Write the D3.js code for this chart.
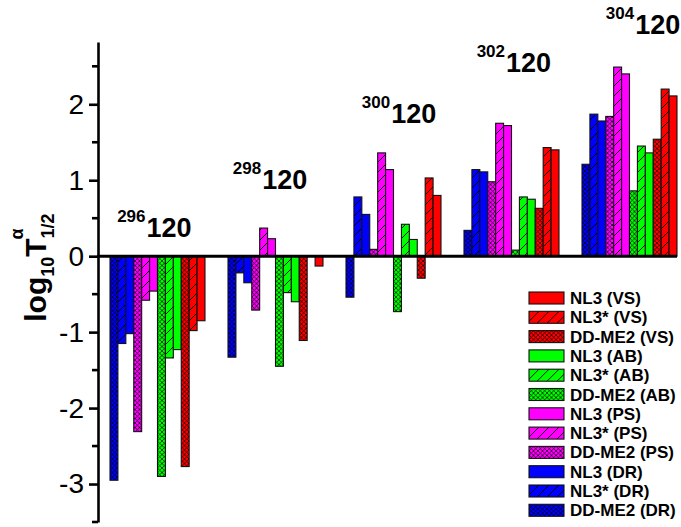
<!DOCTYPE html>
<html>
<head>
<meta charset="utf-8">
<script src="https://cdn.jsdelivr.net/npm/d3@7/dist/d3.min.js"></script>
<style>
  html, body { margin: 0; padding: 0; background: #fff; }
  svg { display: block; font-family: "Liberation Sans", Arial, sans-serif; }
</style>
</head>
<body>
<svg id="chart" width="681" height="527"></svg>
<script>
// Isotopes of element 120 (mass numbers), one bar cluster each
const isotopes = ["296", "298", "300", "302", "304"];

// Series in drawing order inside each cluster
const seriesNames = [
  "DD-ME2 (DR)", "NL3* (DR)", "NL3 (DR)",
  "DD-ME2 (PS)", "NL3* (PS)", "NL3 (PS)",
  "DD-ME2 (AB)", "NL3* (AB)", "NL3 (AB)",
  "DD-ME2 (VS)", "NL3* (VS)", "NL3 (VS)"
];

// log10 T1/2 (alpha) for each series, per isotope (null = not computed)
const ddme2DR = [-2.95, -1.33, -0.54, 0.34, 1.21];
const nl3sDR  = [-1.15, -0.22,  0.78, 1.14, 1.87];
const nl3DR   = [-1.02, -0.35,  0.55, 1.11, 1.78];
const ddme2PS = [-2.31, -0.71,  0.09, 0.98, 1.84];
const nl3sPS  = [-0.58,  0.37,  1.36, 1.75, 2.49];
const nl3PS   = [-0.46,  0.23,  1.14, 1.72, 2.40];
const ddme2AB = [-2.90, -1.45, -0.73, 0.08, 0.86];
const nl3sAB  = [-1.34, -0.48,  0.42, 0.78, 1.45];
const nl3AB   = [-1.23, -0.60,  0.22, 0.75, 1.36];
const ddme2VS = [-2.77, -1.11, -0.29, 0.63, 1.54];
const nl3sVS  = [-0.98,  null,  1.03, 1.43, 2.20];
const nl3VS   = [-0.85, -0.13,  0.80, 1.40, 2.11];

const seriesValues = [
  ddme2DR, nl3sDR, nl3DR,
  ddme2PS, nl3sPS, nl3PS,
  ddme2AB, nl3sAB, nl3AB,
  ddme2VS, nl3sVS, nl3VS
];

// Y ticks
const majorTicks = [-3, -2, -1, 0, 1, 2];
const minorTicks = [-3.5, -2.5, -1.5, -0.5, 0.5, 1.5, 2.5];

// Cluster captions: anchor in data units (bar-slot offset inside the cluster, value)
const captionSlot = [0.9, 0.6, 2.0, 1.6, 3.0];
const captionY    = [0.25, 0.89, 1.76, 2.42, 2.93];

const colorOf = { VS: "#ff0000", AB: "#00ff00", PS: "#ff00ff", DR: "#0000ff" };
const fillKind = name => name.startsWith("DD-ME2") ? "cross" : (name.startsWith("NL3*") ? "hatch" : "solid");
const groupOf = name => name.match(/\((\w+)\)/)[1];

const svg = d3.select("#chart");

// Scales
const x = d3.scaleBand().domain(isotopes).range([110, 677]).paddingInner(23 / 118).paddingOuter(0);
const xInner = d3.scaleBand().domain(seriesNames).range([0, x.bandwidth()]).padding(0);
const y = d3.scaleLinear().domain([-3.5, 2.82]).range([522, 42]);

// Fill patterns
const defs = svg.append("defs");
Object.entries(colorOf).forEach(([k, c]) => {
  const h = defs.append("pattern").attr("id", "hatch-" + k)
    .attr("patternUnits", "userSpaceOnUse").attr("width", 10).attr("height", 10);
  h.append("rect").attr("width", 10).attr("height", 10).attr("fill", c);
  h.append("path").attr("d", "M0,10 L10,0 M-2,2 L2,-2 M8,12 L12,8")
    .attr("stroke", "#000").attr("stroke-width", 0.9);

  const x4 = defs.append("pattern").attr("id", "cross-" + k)
    .attr("patternUnits", "userSpaceOnUse").attr("width", 4.5).attr("height", 4.5);
  x4.append("rect").attr("width", 4.5).attr("height", 4.5).attr("fill", c);
  x4.append("path").attr("d", "M0,0 L4.5,4.5 M0,4.5 L4.5,0")
    .attr("stroke", "#000").attr("stroke-width", 0.7);
});
const fillFor = name => {
  const g = groupOf(name), k = fillKind(name);
  return k === "solid" ? colorOf[g] : `url(#${k}-${g})`;
};

// Bars
const bars = [];
isotopes.forEach((iso, gi) => {
  seriesNames.forEach((s, si) => {
    const v = seriesValues[si][gi];
    if (v !== null) bars.push({ iso, s, v });
  });
});
svg.append("g").selectAll("rect").data(bars).join("rect")
  .attr("x", d => x(d.iso) + xInner(d.s))
  .attr("width", xInner.bandwidth())
  .attr("y", d => y(Math.max(0, d.v)))
  .attr("height", d => Math.abs(y(d.v) - y(0)))
  .attr("fill", d => fillFor(d.s))
  .attr("stroke", "#111").attr("stroke-width", 1.1);

// Zero line
svg.append("line")
  .attr("x1", 97).attr("x2", 677)
  .attr("y1", y(0)).attr("y2", y(0))
  .attr("stroke", "#000").attr("stroke-width", 3);

// Y axis
const axisX = 98;
const yAxis = svg.append("g").attr("transform", `translate(${axisX},0)`)
  .call(d3.axisLeft(y).tickValues(majorTicks).tickSize(9).tickSizeOuter(0).tickPadding(5).tickFormat(d => String(d)));
yAxis.select(".domain").attr("stroke-width", 2.6);
yAxis.selectAll(".tick line").attr("stroke-width", 2.6);
yAxis.selectAll(".tick text").attr("font-size", 28).attr("fill", "#000")
  .attr("font-family", "'Liberation Sans', Arial, sans-serif");
yAxis.selectAll(".minor").data(minorTicks).join("line").attr("class", "minor")
  .attr("x1", -6).attr("x2", 0).attr("y1", d => y(d)).attr("y2", d => y(d))
  .attr("stroke", "#000").attr("stroke-width", 2.6);

// Y axis title: log10 T1/2 ^alpha
const title = svg.append("text")
  .attr("transform", `translate(46,${y(-0.15)}) rotate(-90)`)
  .attr("text-anchor", "middle").attr("font-weight", "bold").attr("font-size", 30);
title.append("tspan").text("log");
title.append("tspan").attr("font-size", 18).attr("dy", 8).text("10");
title.append("tspan").attr("dy", -8).text("T");
title.append("tspan").attr("font-size", 18).attr("dy", 8).text("1/2");
title.append("tspan").attr("font-size", 18).attr("dx", -26).attr("dy", -31).text("α");

// Cluster captions
isotopes.forEach((iso, i) => {
  const t = svg.append("text")
    .attr("x", x(iso) + xInner.step() * captionSlot[i])
    .attr("y", y(captionY[i]))
    .attr("font-weight", "bold");
  t.append("tspan").attr("font-size", 17).attr("dy", -15).text(iso);
  t.append("tspan").attr("font-size", 27).attr("dy", 15).attr("dx", 1).text("120");
});

// Legend (reverse drawing order)
const legendItems = seriesNames.slice().reverse();
const legend = svg.append("g").attr("transform", "translate(529,292)");
const row = legend.selectAll("g").data(legendItems).join("g")
  .attr("transform", (d, i) => `translate(0,${i * 19.3})`);
row.append("rect").attr("width", 35).attr("height", 12)
  .attr("fill", d => fillFor(d)).attr("stroke", "#111").attr("stroke-width", 1.1);
row.append("text").attr("x", 41).attr("y", 12)
  .attr("font-size", 17).attr("font-weight", "bold").text(d => d);
</script>
</body>
</html>
